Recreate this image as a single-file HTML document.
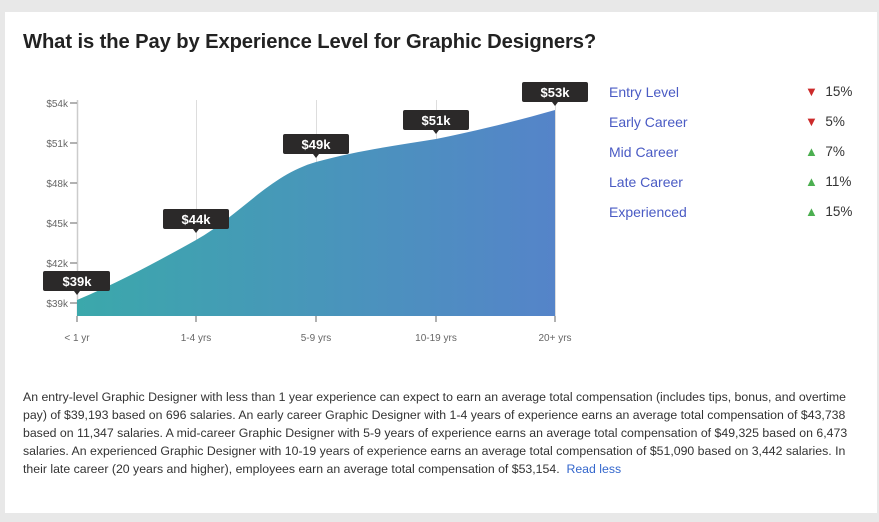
<!DOCTYPE html>
<html><head><meta charset="utf-8"><style>
body{margin:0;width:879px;height:522px;background:#e8e8e8;font-family:"Liberation Sans",Arial,sans-serif;overflow:hidden}
.card{position:absolute;left:5px;top:12px;width:872px;height:501px;background:#fff}
h1{position:absolute;left:23px;top:31px;margin:0;font-size:20.2px;font-weight:bold;color:#222;letter-spacing:-0.1px}
.p{position:absolute;left:23px;top:389px;width:842px;font-size:12.3px;line-height:17.9px;color:#333}
.p a{color:#3366cc;text-decoration:none}
.leg{position:absolute;left:609px;font-size:14px;color:#4a5bc4}
.pct{position:absolute;left:805px;font-size:13.5px;color:#333}
.dn{color:#cc2a2a;font-size:13px}.up{color:#4caf50;font-size:13px}
</style></head><body>
<div class="card"></div>
<h1>What is the Pay by Experience Level for Graphic Designers?</h1>
<svg width="879" height="522" style="position:absolute;left:0;top:0" font-family="Liberation Sans, Arial, sans-serif">
<defs><linearGradient id="g" x1="0" x2="1"><stop offset="0" stop-color="#3ba8ab"/><stop offset="1" stop-color="#5584c9"/></linearGradient></defs>
<g stroke="#ddd" stroke-width="1">
<line x1="196.5" y1="100" x2="196.5" y2="316"/><line x1="316.5" y1="100" x2="316.5" y2="316"/><line x1="436.5" y1="100" x2="436.5" y2="316"/><line x1="555.5" y1="100" x2="555.5" y2="316"/>
</g>
<line x1="77.5" y1="100" x2="77.5" y2="316" stroke="#ccc" stroke-width="1.5"/>
<path d="M77,300 C120,282 160,260 196,240 C240,215 270,175 316,162 C360,150 400,145 436,139 C480,130 520,120 555,110 L555,316 L77,316 Z" fill="url(#g)"/>
<g stroke="#666"><line x1="70" y1="103" x2="77" y2="103"/><line x1="70" y1="143" x2="77" y2="143"/><line x1="70" y1="183" x2="77" y2="183"/><line x1="70" y1="223" x2="77" y2="223"/><line x1="70" y1="263" x2="77" y2="263"/><line x1="70" y1="303" x2="77" y2="303"/>
<line x1="77" y1="316" x2="77" y2="322"/><line x1="196" y1="316" x2="196" y2="322"/><line x1="316" y1="316" x2="316" y2="322"/><line x1="436" y1="316" x2="436" y2="322"/><line x1="555" y1="316" x2="555" y2="322"/></g>
<g font-size="10" fill="#666" text-anchor="end"><text x="68" y="107">$54k</text><text x="68" y="147">$51k</text><text x="68" y="187">$48k</text><text x="68" y="227">$45k</text><text x="68" y="267">$42k</text><text x="68" y="307">$39k</text></g>
<g font-size="10" fill="#666" text-anchor="middle"><text x="77" y="341">&lt; 1 yr</text><text x="196" y="341">1-4 yrs</text><text x="316" y="341">5-9 yrs</text><text x="436" y="341">10-19 yrs</text><text x="555" y="341">20+ yrs</text></g>
<g fill="#2b2929">
<rect x="43" y="271" width="67" height="20" rx="2"/><path d="M74,291 L77,295 L80,291Z"/>
<rect x="163" y="209" width="66" height="20" rx="2"/><path d="M193,229 L196,233 L199,229Z"/>
<rect x="283" y="134" width="66" height="20" rx="2"/><path d="M313,154 L316,158 L319,154Z"/>
<rect x="403" y="110" width="66" height="20" rx="2"/><path d="M433,130 L436,134 L439,130Z"/>
<rect x="522" y="82" width="66" height="20" rx="2"/><path d="M552,102 L555,106 L558,102Z"/>
</g>
<g font-size="13" font-weight="bold" fill="#fff" text-anchor="middle"><text x="77" y="286">$39k</text><text x="196" y="224">$44k</text><text x="316" y="149">$49k</text><text x="436" y="125">$51k</text><text x="555" y="97">$53k</text></g>
</svg>
<div class="leg" style="top:84px">Entry Level</div><div class="pct" style="top:84px"><span class="dn">▼</span>&nbsp; 15%</div>
<div class="leg" style="top:114px">Early Career</div><div class="pct" style="top:114px"><span class="dn">▼</span>&nbsp; 5%</div>
<div class="leg" style="top:144px">Mid Career</div><div class="pct" style="top:144px"><span class="up">▲</span>&nbsp; 7%</div>
<div class="leg" style="top:174px">Late Career</div><div class="pct" style="top:174px"><span class="up">▲</span>&nbsp; 11%</div>
<div class="leg" style="top:204px">Experienced</div><div class="pct" style="top:204px"><span class="up">▲</span>&nbsp; 15%</div>
<div class="p">An entry-level Graphic Designer with less than 1 year experience can expect to earn an average total compensation (includes tips, bonus, and overtime<br>pay) of $39,193 based on 696 salaries. An early career Graphic Designer with 1-4 years of experience earns an average total compensation of $43,738<br>based on 11,347 salaries. A mid-career Graphic Designer with 5-9 years of experience earns an average total compensation of $49,325 based on 6,473<br>salaries. An experienced Graphic Designer with 10-19 years of experience earns an average total compensation of $51,090 based on 3,442 salaries. In<br>their late career (20 years and higher), employees earn an average total compensation of $53,154. &nbsp;<a>Read less</a></div>
</body></html>
